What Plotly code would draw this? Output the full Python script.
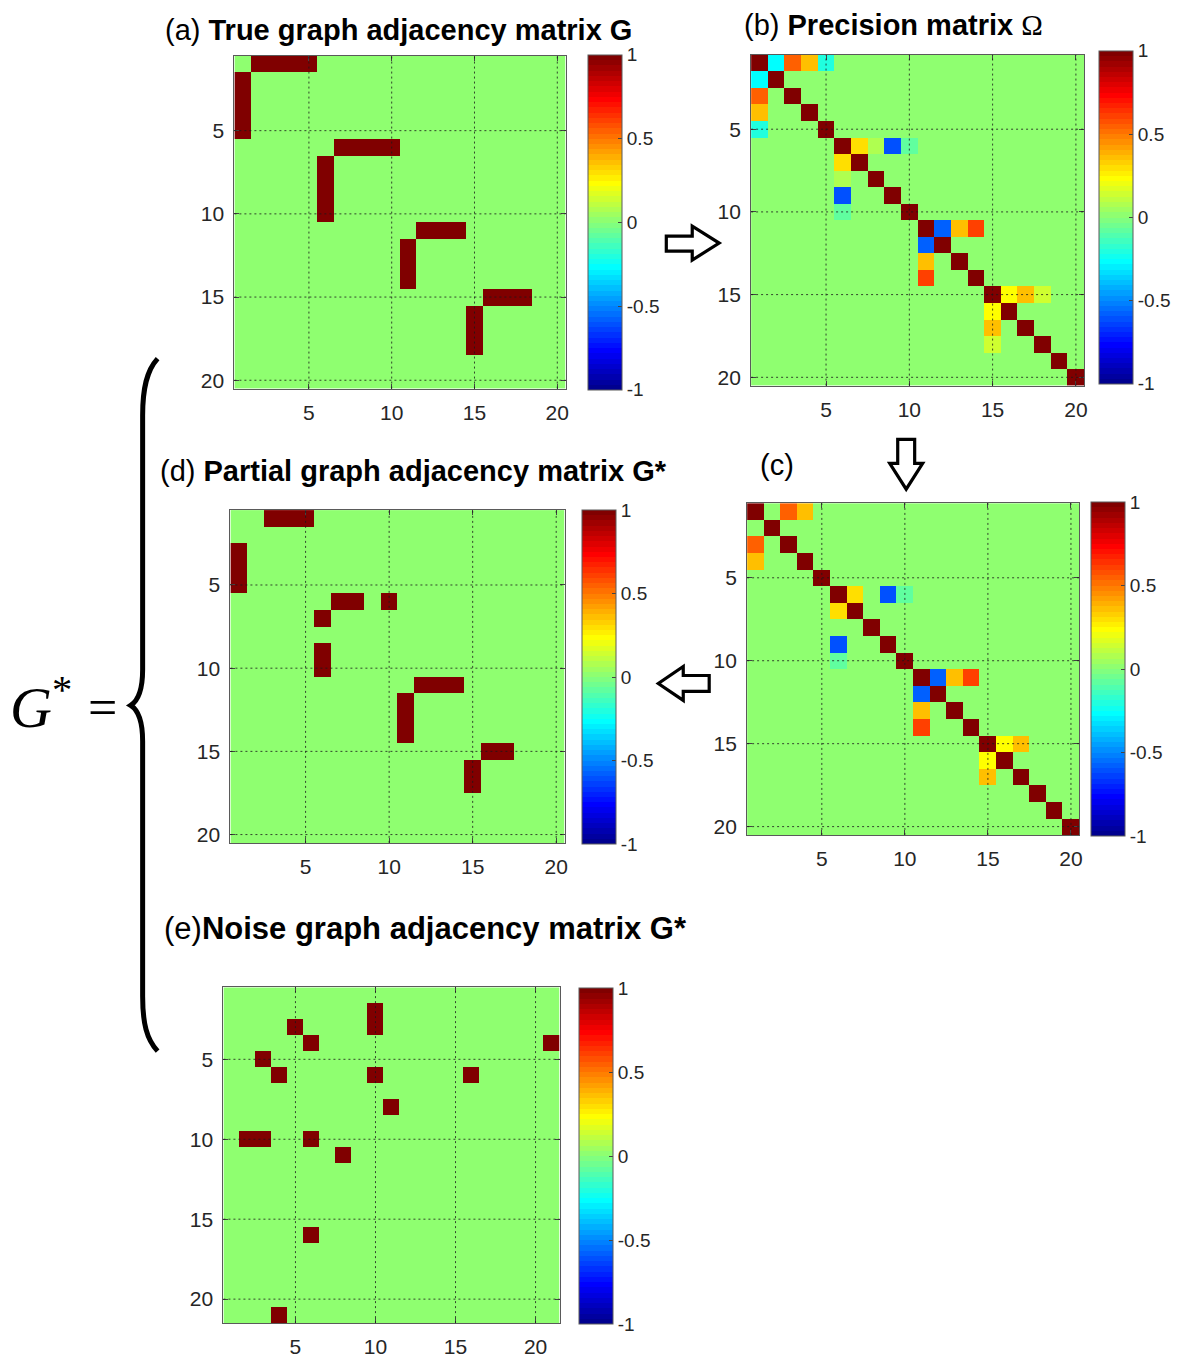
import numpy as np
import plotly.graph_objects as go

W, H = 1180, 1358
FONT = "Liberation Sans, Arial, sans-serif"

# ---------------- data ----------------
N = 20
N_NOISE = 21
tick_vals = [5, 10, 15, 20]
cbar_vals = [-1, -0.5, 0, 0.5, 1]
cbar_text = ["-1", "-0.5", "0", "0.5", "1"]

# (a) true graph: edges (upper triangle, symmetric)
edge_rows = [1, 1, 1, 1, 6, 6, 6, 6, 11, 11, 11, 15, 15, 15]
edge_cols = [2, 3, 4, 5, 7, 8, 9, 10, 12, 13, 14, 16, 17, 18]

# (b) precision matrix: off-diagonal values on those edges, unit diagonal
prec_vals = [-0.26, 0.55, 0.36, -0.20, 0.30, 0.09, -0.60, -0.08,
             -0.57, 0.36, 0.60, 0.23, 0.36, 0.13]
prec_diag = 1.0

# (c) estimated precision matrix (some entries vanished)
est_vals = [0.0, 0.55, 0.36, 0.0, 0.30, 0.0, -0.60, -0.08,
            -0.57, 0.36, 0.60, 0.23, 0.36, 0.0]

# (d) partial graph adjacency G*: non-zero cells (row, col)
partial_rows = [1, 1, 1, 3, 4, 5, 6, 6, 6, 7, 9, 10,
                11, 11, 11, 12, 13, 14, 15, 15, 16, 17]
partial_cols = [3, 4, 5, 1, 1, 1, 7, 8, 10, 6, 6, 6,
                12, 13, 14, 11, 11, 11, 16, 17, 15, 15]

# (e) noise graph adjacency G*: non-zero cells (row, col), 21 x 21
noise_rows = [2, 3, 3, 4, 4, 5, 6, 6, 6, 8, 10, 10, 10, 11, 16, 21]
noise_cols = [10, 10, 5, 6, 21, 3, 4, 10, 16, 11, 2, 3, 6, 8, 6, 4]


# ---------------- matrices ----------------
def sym_matrix(n, rows, cols, vals, diag=0.0):
    m = np.zeros((n, n))
    for r, c, v in zip(rows, cols, vals):
        m[r - 1, c - 1] = v
        m[c - 1, r - 1] = v
    np.fill_diagonal(m, diag)
    return m


def cell_matrix(n, rows, cols):
    m = np.zeros((n, n))
    for r, c in zip(rows, cols):
        m[r - 1, c - 1] = 1.0
    return m


Z_a = sym_matrix(N, edge_rows, edge_cols, [1.0] * len(edge_rows))
Z_b = sym_matrix(N, edge_rows, edge_cols, prec_vals, prec_diag)
Z_c = sym_matrix(N, edge_rows, edge_cols, est_vals, prec_diag)
Z_d = cell_matrix(N, partial_rows, partial_cols)
Z_e = cell_matrix(N_NOISE, noise_rows, noise_cols)


# ---------------- MATLAB jet(64) colour map ----------------
def jet_matlab(m=64):
    n = int(np.ceil(m / 4))
    u = np.concatenate([np.arange(1, n + 1) / n, np.ones(n - 1), np.arange(n, 0, -1) / n])
    g = int(np.ceil(n / 2)) - (1 if m % 4 == 1 else 0) + np.arange(1, len(u) + 1)
    r = g + n
    b = g - n
    J = np.zeros((m, 3))
    for idx, col in ((r, 0), (g, 1), (b, 2)):
        mask = (idx >= 1) & (idx <= m)
        J[idx[mask] - 1, col] = u[mask]
    return J


J = jet_matlab(64)
colorscale = []
for i, (rr, gg, bb) in enumerate(J):
    c = "rgb(%d,%d,%d)" % (round(rr * 255), round(gg * 255), round(bb * 255))
    colorscale.append([i / 64, c])
    colorscale.append([(i + 1) / 64 - 1e-6 if i < 63 else 1.0, c])


def fx(px):
    return px / W


def fy(py):
    return 1 - py / H


# panel geometry in pixels: (x0, x1, y0, y1), colourbar (x0, y0, y1)
panels = [
    dict(Z=Z_a, n=N, box=(235, 567, 56, 390), cb=(589, 55, 390)),
    dict(Z=Z_b, n=N, box=(753, 1087, 55, 387), cb=(1102, 51, 384)),
    dict(Z=Z_c, n=N, box=(749, 1082, 505, 838), cb=(1094, 504, 838)),
    dict(Z=Z_d, n=N, box=(231, 566, 512, 846), cb=(583, 512, 846)),
    dict(Z=Z_e, n=N_NOISE, box=(224, 561, 991, 1328), cb=(580, 992, 1328)),
]

fig = go.Figure()
layout = dict(
    width=W, height=H, margin=dict(l=0, r=0, t=0, b=0),
    paper_bgcolor="white", plot_bgcolor="white", showlegend=False,
    font=dict(family=FONT, color="#262626"),
)
shapes = []
grid_line = dict(color="rgba(25,25,25,0.8)", width=1, dash="2px,3px")

for k, p in enumerate(panels, start=1):
    n = p["n"]
    idx = list(range(1, n + 1))
    sfx = "" if k == 1 else str(k)
    fig.add_trace(go.Heatmap(
        z=p["Z"], x=idx, y=idx, coloraxis="coloraxis" + sfx,
        xaxis="x" + sfx, yaxis="y" + sfx, zsmooth=False,
        hoverinfo="skip",
    ))
    x0, x1, y0, y1 = p["box"]
    ax_common = dict(
        tickmode="array", tickvals=tick_vals, ticks="inside", ticklen=5,
        tickcolor="#444", mirror="ticks", showline=True, linecolor="#5a5a5a",
        linewidth=1, showgrid=False, zeroline=False, layer="above traces",
        tickfont=dict(size=21, color="#262626", family=FONT),
    )
    layout["xaxis" + sfx] = dict(
        ax_common, domain=[fx(x0), fx(x1)], anchor="y" + sfx,
        range=[0.5, n + 0.5], ticklabelstandoff=5,
    )
    layout["yaxis" + sfx] = dict(
        ax_common, domain=[fy(y1), fy(y0)], anchor="x" + sfx,
        range=[n + 0.5, 0.5], ticklabelstandoff=5,
    )
    cbx, cby0, cby1 = p["cb"]
    layout["coloraxis" + sfx] = dict(
        colorscale=colorscale, cmin=-1, cmax=1,
        colorbar=dict(
            thickness=34, thicknessmode="pixels",
            len=cby1 - cby0, lenmode="pixels",
            x=fx(cbx), xanchor="left", y=fy(cby0), yanchor="top",
            xpad=0, ypad=0, outlinewidth=1, outlinecolor="#5a5a5a",
            tickmode="array", tickvals=cbar_vals, ticktext=cbar_text,
            ticks="inside", ticklen=4, tickcolor="#444",
            tickfont=dict(size=19, color="#262626", family=FONT),
        ),
    )
    for v in tick_vals:
        shapes.append(dict(type="line", xref="x" + sfx, yref="y" + sfx + " domain",
                           x0=v, x1=v, y0=0, y1=1, line=grid_line, layer="above"))
        shapes.append(dict(type="line", yref="y" + sfx, xref="x" + sfx + " domain",
                           y0=v, y1=v, x0=0, x1=1, line=grid_line, layer="above"))


def path_px(points, close=True):
    s = "M " + " L ".join("%f,%f" % (fx(x), fy(y)) for x, y in points)
    return s + (" Z" if close else "")


arrow_style = dict(type="path", xref="paper", yref="paper",
                   fillcolor="white", line=dict(color="black", width=3.2), layer="above")
# right arrow (a -> b)
shapes.append(dict(arrow_style, path=path_px([
    (668, 237), (694, 237), (694, 227), (721, 244), (694, 261), (694, 252), (668, 252)])))
# down arrow (b -> c)
shapes.append(dict(arrow_style, path=path_px([
    (900, 441), (917, 441), (917, 465), (925, 465), (908.5, 491), (892, 465), (900, 465)])))
# left arrow (c -> d)
shapes.append(dict(arrow_style, path=path_px([
    (711, 678), (685, 678), (685, 669), (660, 686), (685, 703), (685, 694), (711, 694)])))


# curly brace
def bz(pts):
    return " ".join("%f,%f" % (fx(x), fy(y)) for x, y in pts)


brace = ("M " + bz([(158, 360)]) +
         " C " + bz([(147, 372), (143, 390), (143, 417)]) +
         " L " + bz([(143, 672)]) +
         " C " + bz([(143, 692), (139, 703), (131, 708)]) +
         " C " + bz([(139, 713), (143, 724), (143, 744)]) +
         " L " + bz([(143, 1000)]) +
         " C " + bz([(143, 1027), (147, 1043), (158, 1055)]))
shapes.append(dict(type="path", xref="paper", yref="paper", path=brace,
                   line=dict(color="black", width=5), layer="above"))

layout["shapes"] = shapes

annotations = [
    dict(x=fx(163), y=fy(30), text="(a) <b>True graph adjacency matrix G</b>", size=29),
    dict(x=fx(744), y=fy(25),
         text="(b) <b>Precision matrix </b><span style='font-family:Liberation Serif'>Ω</span>",
         size=29),
    dict(x=fx(760), y=fy(467), text="(c)", size=29),
    dict(x=fx(158), y=fy(473), text="(d) <b>Partial graph adjacency matrix G*</b>", size=29),
    dict(x=fx(162), y=fy(932), text="(e)<b>Noise graph adjacency matrix G*</b>", size=31),
]
for a in annotations:
    sz = a.pop("size")
    a.update(xref="paper", yref="paper", xanchor="left", yanchor="middle",
             showarrow=False, font=dict(family=FONT, size=sz, color="black"))

annotations.append(dict(
    x=fx(8), y=fy(706), xref="paper", yref="paper", xanchor="left", yanchor="middle",
    showarrow=False, text="<i>G</i><sup>*</sup>",
    font=dict(family="Liberation Serif, serif", size=58, color="black")))
annotations.append(dict(
    x=fx(86), y=fy(710), xref="paper", yref="paper", xanchor="left", yanchor="middle",
    showarrow=False, text="=",
    font=dict(family="Liberation Serif, serif", size=52, color="black")))
layout["annotations"] = annotations

fig.update_layout(**layout)
fig.write_html("out.html", config={"displayModeBar": False},
               post_script="document.body.style.margin='0';document.body.style.overflow='hidden';")
